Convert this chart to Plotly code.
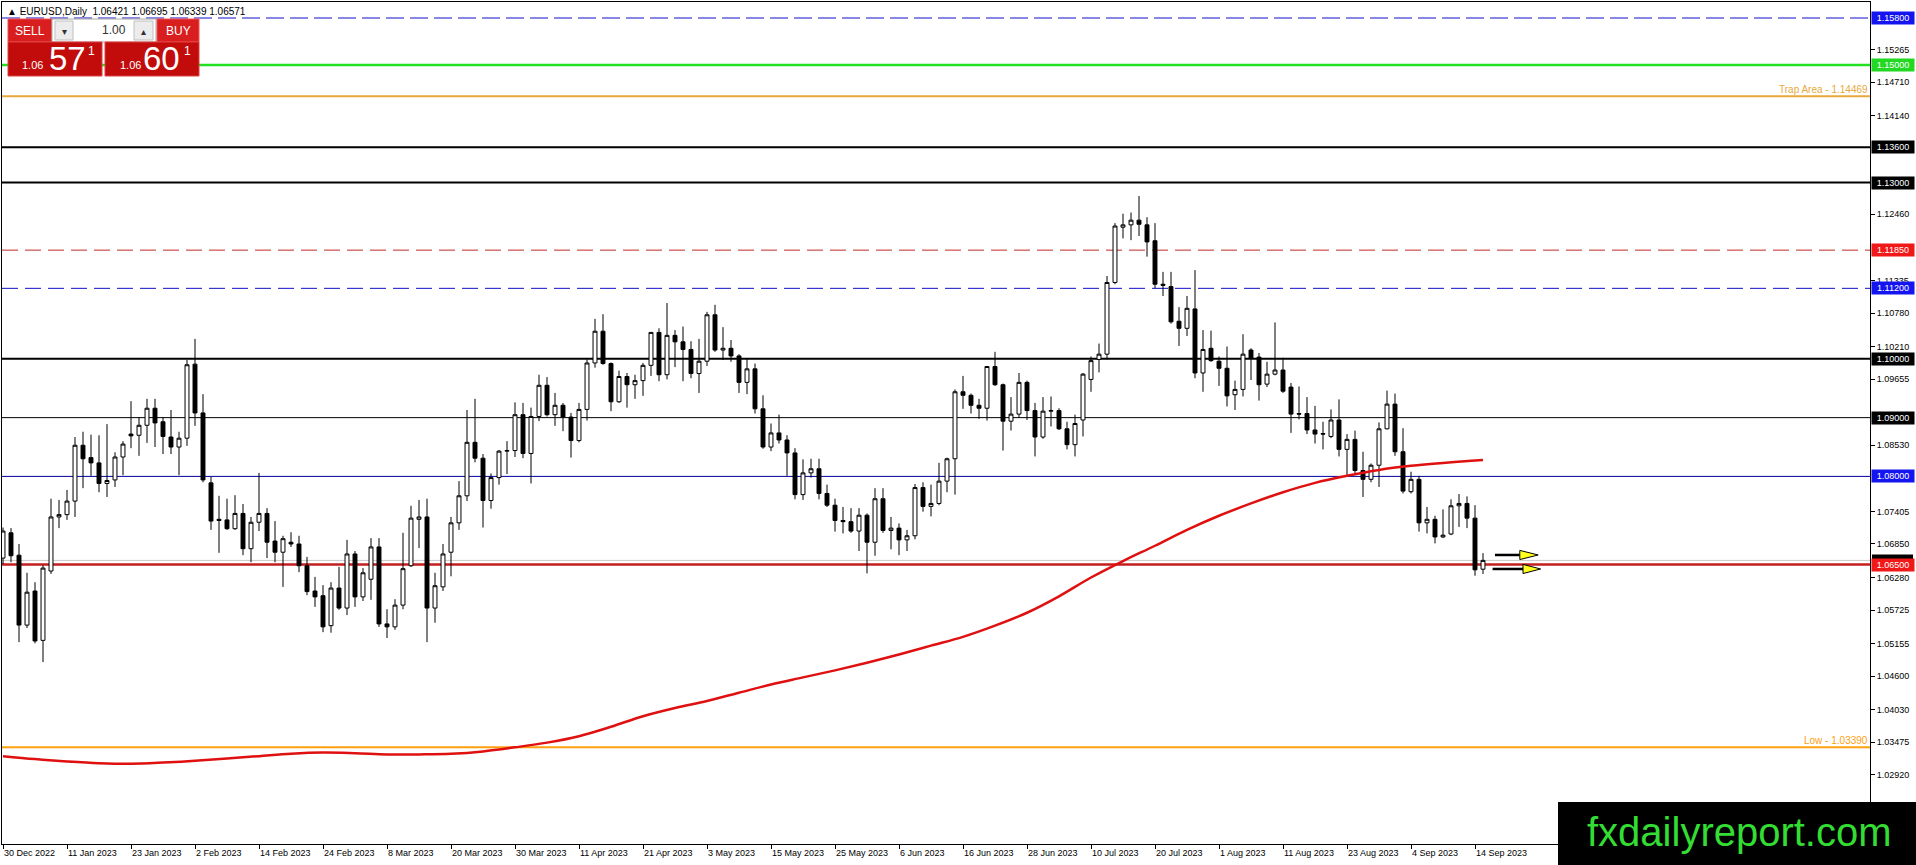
import plotly.graph_objects as go

# daily bars, index 0 = 30 Dec 2022 ... index 185 = 15 Sep 2023
opens = [
    1.0661, 1.0704, 1.0666, 1.0547, 1.0605, 1.0521, 1.0639, 1.0731, 1.0735, 1.0758,
    1.0853, 1.0832, 1.0823, 1.0788, 1.0794, 1.0833, 1.0872, 1.0870, 1.0887, 1.0916,
    1.0893, 1.0867, 1.0850, 1.0865, 1.0991, 1.0908, 1.0789, 1.0727, 1.0726, 1.0711,
    1.0737, 1.0677, 1.0722, 1.0737, 1.0690, 1.0671, 1.0688, 1.0685, 1.0648, 1.0605,
    1.0597, 1.0546, 1.0610, 1.0576, 1.0668, 1.0595, 1.0625, 1.0680, 1.0549, 1.0544,
    1.0581, 1.0648, 1.0727, 1.0731, 1.0576, 1.0612, 1.0671, 1.0721, 1.0767, 1.0858,
    1.0831, 1.0759, 1.0798, 1.0843, 1.0844, 1.0905, 1.0839, 1.0902, 1.0955, 1.0905,
    1.0921, 1.0901, 1.0861, 1.0914, 1.0993, 1.1047, 1.0992, 1.0927, 1.0970, 1.0956,
    1.0963, 1.0989, 1.1045, 1.0973, 1.1040, 1.1029, 1.1016, 1.0975, 1.0996, 1.1075,
    1.1015, 1.1018, 1.1005, 1.0960, 1.0983, 1.0915, 1.0850, 1.0874, 1.0862, 1.0840,
    1.0769, 1.0806, 1.0813, 1.0771, 1.0751, 1.0725, 1.0723, 1.0707, 1.0734, 1.0688,
    1.0762, 1.0708, 1.0712, 1.0692, 1.0699, 1.0781, 1.0749, 1.0754, 1.0792, 1.0830,
    1.0944, 1.0938, 1.0921, 1.0916, 1.0987, 1.0956, 1.0894, 1.0906, 1.0960, 1.0912,
    1.0867, 1.0911, 1.0912, 1.0881, 1.0854, 1.0896, 1.0965, 1.0999, 1.1008, 1.1130,
    1.1224, 1.1228, 1.1236, 1.1228, 1.1201, 1.1127, 1.1123, 1.1064, 1.1052, 1.1085,
    1.0976, 1.1018, 1.0996, 1.0984, 1.0939, 1.0948, 1.1015, 1.1003, 1.0957, 1.0974,
    1.0981, 1.0952, 1.0907, 1.0907, 1.0879, 1.0873, 1.0868, 1.0896, 1.0846, 1.0863,
    1.0810, 1.0795, 1.0819, 1.0881, 1.0923, 1.0842, 1.0774, 1.0795, 1.0721, 1.0727,
    1.0697, 1.0702, 1.0750, 1.0754, 1.0729, 1.06421,
]
highs = [
    1.0713, 1.0712, 1.0685, 1.0636, 1.0620, 1.0649, 1.0762, 1.0760, 1.0777, 1.0867,
    1.0876, 1.0871, 1.0870, 1.0889, 1.0841, 1.0860, 1.0928, 1.0901, 1.0932, 1.0932,
    1.0901, 1.0913, 1.0876, 1.0998, 1.1034, 1.0940, 1.0799, 1.0767, 1.0762, 1.0768,
    1.0753, 1.0731, 1.0806, 1.0746, 1.0724, 1.0699, 1.0705, 1.0699, 1.0663, 1.0629,
    1.0615, 1.0620, 1.0646, 1.0692, 1.0673, 1.0644, 1.0695, 1.0695, 1.0574, 1.0591,
    1.0704, 1.0750, 1.0760, 1.0762, 1.0636, 1.0685, 1.0731, 1.0792, 1.0913, 1.0932,
    1.0838, 1.0805, 1.0845, 1.0860, 1.0926, 1.0925, 1.0917, 1.0973, 1.0969, 1.0942,
    1.0925, 1.0908, 1.0925, 1.0999, 1.1068, 1.1076, 1.0994, 1.0980, 1.0976, 1.0973,
    1.0993, 1.1045, 1.1052, 1.1095, 1.1049, 1.1055, 1.1030, 1.1034, 1.1080, 1.1092,
    1.1054, 1.1032, 1.1008, 1.1001, 1.0992, 1.0938, 1.0890, 1.0905, 1.0870, 1.0848,
    1.0829, 1.0830, 1.0830, 1.0786, 1.0762, 1.0748, 1.0746, 1.0746, 1.0737, 1.0780,
    1.0780, 1.0731, 1.0720, 1.0709, 1.0787, 1.0790, 1.0786, 1.0823, 1.0832, 1.0948,
    1.0971, 1.0941, 1.0932, 1.0986, 1.1012, 1.0958, 1.0935, 1.0976, 1.0963, 1.0925,
    1.0935, 1.0936, 1.0916, 1.0893, 1.0905, 1.0976, 1.1004, 1.1026, 1.1141, 1.1231,
    1.1247, 1.1249, 1.1277, 1.1241, 1.1231, 1.1148, 1.1148, 1.1088, 1.1107, 1.1151,
    1.1049, 1.1048, 1.1004, 1.1021, 1.0963, 1.1042, 1.1018, 1.1010, 1.0995, 1.1062,
    1.1002, 1.0959, 1.0953, 1.0935, 1.0920, 1.0893, 1.0914, 1.0931, 1.0872, 1.0878,
    1.0842, 1.0822, 1.0892, 1.0946, 1.0941, 1.0882, 1.0808, 1.0801, 1.0748, 1.0733,
    1.0744, 1.0761, 1.0770, 1.0766, 1.0751, 1.06695,
]
lows = [
    1.0651, 1.0654, 1.0518, 1.0542, 1.0516, 1.0484, 1.0634, 1.0712, 1.0726, 1.0731,
    1.0780, 1.0801, 1.0773, 1.0765, 1.0782, 1.0802, 1.0848, 1.0835, 1.0857, 1.0850,
    1.0838, 1.0838, 1.0802, 1.0852, 1.0886, 1.0790, 1.0709, 1.0670, 1.0709, 1.0709,
    1.0666, 1.0654, 1.0707, 1.0661, 1.0654, 1.0612, 1.0680, 1.0637, 1.0598, 1.0578,
    1.0535, 1.0534, 1.0573, 1.0564, 1.0578, 1.0588, 1.0590, 1.0544, 1.0525, 1.0539,
    1.0574, 1.0646, 1.0678, 1.0518, 1.0551, 1.0605, 1.0630, 1.0709, 1.0758, 1.0824,
    1.0713, 1.0745, 1.0786, 1.0804, 1.0833, 1.0831, 1.0788, 1.0894, 1.0902, 1.0886,
    1.0877, 1.0832, 1.0858, 1.0895, 1.0985, 1.0990, 1.0911, 1.0925, 1.0917, 1.0932,
    1.0937, 1.0971, 1.0962, 1.0965, 1.0986, 1.0962, 1.0967, 1.0942, 1.0988, 1.1012,
    1.0998, 1.0995, 1.0942, 1.0940, 1.0907, 1.0847, 1.0843, 1.0856, 1.0801, 1.0761,
    1.0760, 1.0798, 1.0761, 1.0748, 1.0706, 1.0703, 1.0704, 1.0673, 1.0635, 1.0665,
    1.0704, 1.0676, 1.0666, 1.0673, 1.0693, 1.0740, 1.0732, 1.0751, 1.0773, 1.0769,
    1.0915, 1.0907, 1.0898, 1.0895, 1.0954, 1.0844, 1.0878, 1.0900, 1.0896, 1.0834,
    1.0864, 1.0885, 1.0879, 1.0846, 1.0834, 1.0868, 1.0944, 1.0977, 1.0999, 1.1127,
    1.1205, 1.1202, 1.1209, 1.1174, 1.1120, 1.1107, 1.1060, 1.1022, 1.1039, 1.0967,
    1.0944, 1.0995, 1.0954, 1.0919, 1.0913, 1.0936, 1.0964, 1.0929, 1.0952, 1.0972,
    1.0942, 1.0874, 1.0897, 1.0872, 1.0856, 1.0846, 1.0865, 1.0834, 1.0802, 1.0802,
    1.0765, 1.0790, 1.0782, 1.0880, 1.0835, 1.0771, 1.0771, 1.0706, 1.0703, 1.0686,
    1.0695, 1.0700, 1.0714, 1.0712, 1.0631, 1.06339,
]
closes = [
    1.0707, 1.0665, 1.0547, 1.0603, 1.0520, 1.0644, 1.0731, 1.0735, 1.0758, 1.0853,
    1.0830, 1.0823, 1.0788, 1.0793, 1.0833, 1.0855, 1.0869, 1.0887, 1.0916, 1.0891,
    1.0868, 1.0850, 1.0865, 1.0990, 1.0908, 1.0794, 1.0724, 1.0725, 1.0711, 1.0737,
    1.0677, 1.0722, 1.0737, 1.0688, 1.0671, 1.0694, 1.0685, 1.0648, 1.0604, 1.0595,
    1.0544, 1.0610, 1.0576, 1.0668, 1.0595, 1.0636, 1.0680, 1.0549, 1.0544, 1.0581,
    1.0643, 1.0729, 1.0731, 1.0576, 1.0614, 1.0668, 1.0721, 1.0767, 1.0858, 1.0831,
    1.0759, 1.0798, 1.0843, 1.0844, 1.0905, 1.0839, 1.0902, 1.0955, 1.0905, 1.0921,
    1.0901, 1.0861, 1.0914, 1.0993, 1.1047, 1.0992, 1.0927, 1.0970, 1.0956, 1.0963,
    1.0989, 1.1045, 1.0973, 1.1040, 1.1029, 1.1016, 1.0975, 1.0996, 1.1075, 1.1015,
    1.1018, 1.1005, 1.0960, 1.0983, 1.0915, 1.0850, 1.0874, 1.0862, 1.0840, 1.0769,
    1.0806, 1.0813, 1.0771, 1.0751, 1.0725, 1.0723, 1.0707, 1.0734, 1.0688, 1.0762,
    1.0708, 1.0712, 1.0692, 1.0699, 1.0781, 1.0749, 1.0754, 1.0792, 1.0830, 1.0944,
    1.0938, 1.0921, 1.0916, 1.0987, 1.0956, 1.0894, 1.0906, 1.0960, 1.0912, 1.0867,
    1.0911, 1.0912, 1.0881, 1.0854, 1.0890, 1.0974, 1.0997, 1.1008, 1.1130, 1.1226,
    1.1228, 1.1236, 1.1229, 1.1199, 1.1127, 1.1125, 1.1063, 1.1052, 1.1086, 1.0976,
    1.1016, 1.0997, 1.0984, 1.0937, 1.0948, 1.1008, 1.1001, 1.0956, 1.0974, 1.0981,
    1.0945, 1.0906, 1.0906, 1.0879, 1.0872, 1.0872, 1.0896, 1.0846, 1.0863, 1.0810,
    1.0795, 1.0819, 1.0881, 1.0923, 1.0842, 1.0775, 1.0795, 1.0721, 1.0727, 1.0697,
    1.0700, 1.0750, 1.0754, 1.0729, 1.0641, 1.06571,
]

# moving average (red line) read at every 4th bar
ma_idx = list(range(0, 185, 4)) + [185]
ma_val = [1.0324, 1.0319, 1.0315, 1.0312, 1.0311, 1.0313, 1.0316, 1.0320, 1.0324, 1.0328,
          1.0330, 1.0329, 1.0327, 1.0327, 1.0328, 1.0332, 1.0339, 1.0347, 1.0358, 1.0374,
          1.0392, 1.0406, 1.0418, 1.0432, 1.0446, 1.0458, 1.0470, 1.0483, 1.0497, 1.0512,
          1.0527, 1.0546, 1.0568, 1.0596, 1.0628, 1.0656, 1.0682, 1.0709, 1.0733, 1.0754,
          1.0773, 1.0789, 1.0801, 1.0811, 1.0818, 1.0823, 1.0827, 1.0828]

tick_idx = list(range(0, 185, 8))
tick_text = ['30 Dec 2022', '11 Jan 2023', '23 Jan 2023', '2 Feb 2023', '14 Feb 2023',
             '24 Feb 2023', '8 Mar 2023', '20 Mar 2023', '30 Mar 2023', '11 Apr 2023',
             '21 Apr 2023', '3 May 2023', '15 May 2023', '25 May 2023', '6 Jun 2023',
             '16 Jun 2023', '28 Jun 2023', '10 Jul 2023', '20 Jul 2023', '1 Aug 2023',
             '11 Aug 2023', '23 Aug 2023', '4 Sep 2023', '14 Sep 2023']

price_ticks = [1.15265, 1.14710, 1.14140, 1.12460, 1.11335, 1.10780, 1.10210, 1.09655,
               1.08530, 1.07405, 1.06850, 1.06280, 1.05725, 1.05155, 1.04600,
               1.04030, 1.03475, 1.02920]

# horizontal levels drawn on the chart
level_prices = [1.15800, 1.15000, 1.14469, 1.13600, 1.13000, 1.11850, 1.11200,
                1.10000, 1.09000, 1.08000, 1.06571, 1.06500, 1.03390]
level_styles = [('#1010c8', 1, '18px,6px'), ('#22e022', 2.5, 'solid'), ('#e8a93c', 2, 'solid'),
                ('black', 2, 'solid'), ('black', 2, 'solid'), ('#c02a22', 1, '16px,7px'),
                ('#1010c8', 1, '16px,7px'), ('black', 2, 'solid'), ('black', 1, 'solid'),
                ('#0000a0', 1, 'solid'), ('#c8c8c8', 1, 'solid'), ('#c41e1e', 2.5, 'solid'),
                ('#ffa010', 2, 'solid')]

# price tags on the right scale
tag_prices = [1.15800, 1.15000, 1.13600, 1.13000, 1.11850, 1.11200, 1.10000, 1.09000,
              1.08000, 1.06500]
tag_colors = ['#1414f0', '#22d822', 'black', 'black', '#f01818', '#1414f0', 'black', 'black',
              '#1414f0', '#f01818']
bid_price = 1.06571

# arrow objects near the last bars: (x start, x head, x tip, price)
arrows = [(186.5, 189.6, 191.9, 1.06663), (186.2, 190.0, 192.2, 1.06425)]

W, H = 1916, 865
ML, MR, MT, MB = 2, 46, 2, 21
PPU = (H - MT - MB) / (1.160722 - 1.017452)  # pixels per price unit


def px(x):
    return (x - ML) / (W - ML - MR)


def py(y):
    return (H - MB - y) / (H - MT - MB)


fig = go.Figure()

fig.add_trace(go.Candlestick(
    x=list(range(len(opens))), open=opens, high=highs, low=lows, close=closes,
    increasing=dict(line=dict(color='black', width=1), fillcolor='white'),
    decreasing=dict(line=dict(color='black', width=1), fillcolor='black'),
    whiskerwidth=0, showlegend=False, hoverinfo='skip'
))

fig.add_trace(go.Scatter(
    x=ma_idx, y=ma_val, mode='lines', line=dict(color='#e01010', width=2.5, shape='spline'),
    showlegend=False, hoverinfo='skip'
))

shapes = []
for p, (c, w, d) in zip(level_prices, level_styles):
    shapes.append(dict(type='line', xref='paper', x0=0, x1=1, yref='y', y0=p, y1=p,
                       line=dict(color=c, width=w, dash=d), layer='below'))

for x0, xh, xt, p in arrows:
    shapes.append(dict(type='line', xref='x', yref='y', x0=x0, x1=xh, y0=p, y1=p,
                       line=dict(color='black', width=2.5)))
    shapes.append(dict(type='path', xref='x', yref='y',
                       path=f'M {xh},{p + 0.00078} L {xt},{p} L {xh},{p - 0.00078} Z',
                       fillcolor='#ffff20', line=dict(color='black', width=1)))

# bid tag on the price scale (mostly hidden behind the red 1.06500 tag)
bid_y = MT + (1.160722 - bid_price) * PPU
shapes.append(dict(type='rect', xref='paper', yref='paper', x0=px(1872), x1=px(1913),
                   y0=py(bid_y + 6), y1=py(bid_y - 6), fillcolor='black',
                   line=dict(width=0), layer='above'))

# trade panel (top-left)
panel = [
    (8, 19, 52, 42, '#d81e1e', '#f05050'),
    (52, 19, 156, 42, 'white', '#a8a8a8'),
    (55, 21, 73, 40, '#ececec', '#c0c0c0'),
    (134, 21, 153, 40, '#ececec', '#c0c0c0'),
    (157, 19, 199, 42, '#d81e1e', '#f05050'),
    (8, 42, 102, 76, '#c20c0c', '#e04040'),
    (105, 42, 199, 76, '#c20c0c', '#e04040'),
]
for x0, y0, x1, y1, fc, lc in panel:
    shapes.append(dict(type='rect', xref='paper', yref='paper', x0=px(x0), x1=px(x1),
                       y0=py(y1), y1=py(y0), fillcolor=fc, line=dict(color=lc, width=1),
                       layer='above'))

# watermark box
shapes.append(dict(type='rect', xref='paper', yref='paper', x0=px(1558), x1=px(1918),
                   y0=py(867), y1=py(802), fillcolor='black', line=dict(width=0),
                   layer='above'))

annotations = []
for p, c in zip(tag_prices, tag_colors):
    annotations.append(dict(xref='paper', x=1, xanchor='left', xshift=1, yref='y', y=p,
                            yanchor='middle', text=f'{p:.5f}', showarrow=False,
                            bgcolor=c, width=40, borderpad=1,
                            font=dict(family='Liberation Sans', size=9, color='white')))

annotations += [
    dict(xref='paper', yref='y', x=1, y=1.14469, xanchor='right', yanchor='bottom',
         text='Trap Area - 1.14469', showarrow=False, yshift=-1,
         font=dict(family='Liberation Sans', size=10, color='#e8a93c')),
    dict(xref='paper', yref='y', x=1, y=1.03390, xanchor='right', yanchor='bottom',
         text='Low - 1.03390', showarrow=False, yshift=-1,
         font=dict(family='Liberation Sans', size=10, color='#ffa010')),
    dict(xref='paper', yref='paper', x=px(5), y=py(11), xanchor='left', yanchor='middle',
         text='▲ EURUSD,Daily  1.06421 1.06695 1.06339 1.06571', showarrow=False,
         font=dict(family='Liberation Sans', size=10, color='black')),
    dict(xref='paper', yref='paper', x=px(1739), y=py(832), xanchor='center',
         yanchor='middle', text='fxdailyreport.com', showarrow=False,
         font=dict(family='Liberation Sans', size=40, color='#33dd33')),
]

panel_text = [
    (30, 31, 'SELL', 12, 'center'), (178, 31, 'BUY', 12, 'center'),
    (128, 30, '1.00', 12, 'right'), (64, 31, '▾', 10, 'center'), (143, 31, '▴', 10, 'center'),
    (32, 65, '1.06', 11, 'center'), (67, 58, '57', 33, 'center'), (91, 51, '1', 12, 'center'),
    (130, 65, '1.06', 11, 'center'), (161, 58, '60', 33, 'center'), (187, 51, '1', 12, 'center'),
]
for x, y, t, s, a in panel_text:
    dark = t in ('1.00', '▾', '▴')
    annotations.append(dict(xref='paper', yref='paper', x=px(x), y=py(y), xanchor=a,
                            yanchor='middle', text=t, showarrow=False,
                            font=dict(family='Liberation Sans', size=s,
                                      color='#303030' if dark else 'white')))

fig.update_layout(
    width=W, height=H,
    margin=dict(l=ML, r=MR, t=MT, b=MB),
    plot_bgcolor='white',
    paper_bgcolor='white',
    shapes=shapes,
    annotations=annotations,
    font=dict(family='Liberation Sans', size=9, color='black'),
    xaxis=dict(range=[-0.125, 233.375], showgrid=False, zeroline=False,
               rangeslider=dict(visible=False), tickmode='array',
               tickvals=tick_idx, ticktext=tick_text, ticks='outside', ticklen=4,
               tickcolor='black', showline=True, linecolor='black', linewidth=1,
               mirror=True, ticklabelposition='outside right',
               tickfont=dict(family='Liberation Sans', size=9, color='black')),
    yaxis=dict(range=[1.017452, 1.160722], side='right', showgrid=False, zeroline=False,
               tickmode='array', tickvals=price_ticks,
               ticktext=[f'{v:.5f}' for v in price_ticks], ticks='outside', ticklen=4,
               tickcolor='black', showline=True, linecolor='black', linewidth=1,
               mirror=True, tickfont=dict(family='Liberation Sans', size=9, color='black')),
)

fig.write_html("out.html", config={'displayModeBar': False},
               post_script="document.body.style.margin='0px';document.body.style.overflow='hidden';")
